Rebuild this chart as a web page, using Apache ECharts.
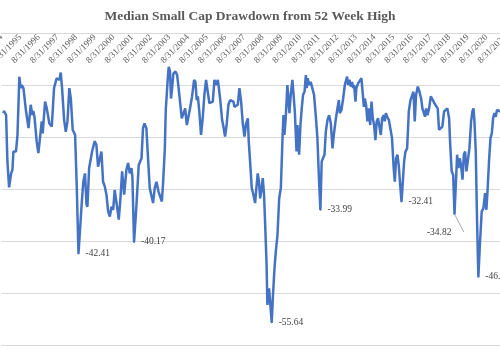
<!DOCTYPE html>
<html>
<head>
<meta charset="utf-8">
<script src="https://cdn.jsdelivr.net/npm/echarts@6/dist/echarts.min.js"></script>
<style>html,body{margin:0;padding:0;background:#fff}#c{width:500px;height:350px}</style>
</head>
<body>
<div id="c"></div>
<script>
// Dates as decimal years, drawdown in percent
const dates = [
1994.76,1994.80,1994.91,1994.98,1995.07,1995.18,1995.25,1995.30,1995.44,1995.52,1995.62,1995.69,1995.75,1995.84,1995.98,
1996.11,1996.18,1996.23,1996.32,1996.37,1996.43,1996.55,1996.64,1996.73,1996.82,1996.87,1997.00,1997.09,1997.23,1997.36,
1997.48,1997.62,1997.71,1997.77,1997.84,1997.91,1998.02,1998.11,1998.20,1998.30,1998.38,1998.48,1998.61,1998.70,1998.79,
1998.88,1998.97,1999.05,1999.14,
1999.22,1999.27,1999.36,1999.43,1999.52,1999.66,1999.75,1999.84,1999.93,2000.02,2000.11,2000.20,2000.29,2000.38,2000.47,
2000.56,2000.65,2000.73,2000.82,2000.95,2001.04,2001.13,2001.24,2001.36,2001.45,2001.54,2001.63,2001.68,2001.77,2001.90,
2002.02,2002.17,2002.25,2002.33,2002.43,2002.52,2002.61,2002.70,2002.79,2002.88,2002.97,2003.08,2003.18,2003.26,2003.33,
2003.42,2003.47,2003.59,
2003.63,2003.70,2003.75,2003.81,2003.88,2003.99,2004.08,2004.15,2004.24,2004.33,2004.42,2004.51,2004.60,2004.68,2004.77,
2004.88,2004.99,2005.06,2005.13,2005.19,2005.27,2005.36,2005.45,2005.54,2005.63,2005.72,2005.81,2005.90,2005.99,2006.08,
2006.17,2006.26,2006.31,2006.40,2006.49,2006.56,2006.65,2006.74,2006.83,2006.92,2007.01,2007.10,2007.15,2007.24,2007.33,
2007.42,2007.51,2007.60,2007.69,2007.78,2007.87,2007.92,2007.99,
2008.08,2008.17,2008.26,2008.33,2008.40,2008.47,2008.53,2008.60,2008.67,2008.74,2008.80,2008.87,2008.92,2009.01,2009.08,
2009.15,2009.22,2009.30,2009.37,2009.46,2009.55,2009.64,2009.73,2009.78,2009.83,2009.90,2009.99,2010.05,2010.10,2010.17,
2010.26,2010.32,2010.39,2010.48,2010.53,2010.62,2010.69,2010.76,2010.83,2010.91,2010.98,2011.03,2011.08,2011.16,2011.24,
2011.33,2011.42,2011.51,2011.60,2011.69,2011.76,2011.83,2011.91,2011.98,2012.05,2012.14,2012.23,2012.32,2012.41,
2012.48,2012.57,2012.66,2012.75,2012.80,2012.89,2012.98,2013.07,2013.14,2013.19,2013.25,2013.32,2013.39,2013.46,2013.51,
2013.57,2013.64,2013.69,2013.78,2013.87,2013.96,2014.03,2014.09,2014.14,2014.21,2014.28,2014.35,2014.43,2014.50,2014.57,
2014.64,2014.71,2014.78,2014.85,2014.93,2015.00,2015.07,2015.16,2015.21,2015.27,2015.34,2015.43,2015.52,2015.60,2015.69,
2015.75,2015.82,2015.89,2015.96,2016.05,2016.11,2016.18,2016.25,2016.32,2016.41,2016.50,2016.59,2016.68,2016.75,2016.82,
2016.89,
2016.98,2017.05,2017.16,2017.23,2017.30,2017.37,2017.43,2017.50,2017.59,2017.68,2017.73,2017.79,2017.87,2017.96,2018.05,
2018.12,2018.21,2018.30,2018.39,2018.48,2018.57,2018.66,2018.73,2018.80,2018.88,2018.95,2019.02,2019.09,2019.16,2019.23,
2019.30,2019.38,2019.45,2019.52,2019.59,2019.66,2019.75,2019.84,2019.91,2019.97,2020.02,2020.09,2020.16,2020.23,2020.32,
2020.41,2020.50,2020.59,2020.66,2020.73,2020.80,2020.88,2020.95,2021.02,2021.09,2021.16,2021.23,2021.31,2021.39
];
const drawdown = [
-15.4,-15.0,-15.8,-24.7,-29.7,-27.0,-26.3,-22.8,-22.8,-19.6,-8.4,-10.6,-10.0,-10.6,-15.1,
-18.3,-18.5,-13.8,-15.8,-15.0,-16.1,-20.9,-23.1,-23.4,-17.0,-19.3,-13.2,-14.5,-17.4,-18.0,
-10.6,-8.7,-8.4,-9.0,-7.6,-10.6,-16.7,-19.0,-17.0,-10.6,-12.6,-18.6,-19.6,-29.8,-42.41,
-37.5,-32.4,-28.6,-27.0,
-33.0,-33.4,-26.0,-25.7,-22.8,-20.8,-21.5,-25.7,-25.7,-22.8,-28.6,-29.5,-31.1,-34.3,-35.3,
-33.4,-34.0,-30.2,-32.4,-35.9,-31.8,-26.6,-31.1,-26.3,-25.0,-27.0,-26.0,-27.6,-40.17,-33.0,
-25.4,-24.1,-18.3,-17.4,-18.3,-24.1,-29.8,-29.5,-32.7,-29.8,-28.6,-30.5,-30.5,-32.4,-28.6,
-22.2,-14.8,-8.1,
-6.5,-7.4,-12.6,-10.6,-7.8,-7.4,-8.1,-10.3,-10.6,-16.4,-16.7,-14.5,-17.7,-18.0,-14.5,
-12.2,-9.0,-9.4,-12.9,-12.2,-15.1,-19.6,-16.4,-11.9,-9.0,-11.3,-13.5,-13.8,-13.2,-9.0,
-10.0,-9.0,-10.3,-13.2,-16.7,-18.0,-19.9,-17.4,-13.8,-12.9,-12.9,-13.2,-14.2,-14.5,-13.8,
-10.6,-13.2,-17.4,-19.9,-17.4,-16.4,-20.9,-24.7,
-29.8,-31.1,-32.7,-29.8,-27.0,-28.6,-31.8,-30.2,-27.9,-31.1,-36.9,-43.9,-52.3,-49.1,-49.4,
-55.64,-50.3,-45.2,-42.0,-38.8,-31.8,-29.8,-20.2,-15.8,-19.6,-16.4,-10.0,-10.0,-15.4,-11.9,
-9.0,-9.0,-15.1,-22.8,-17.7,-23.4,-17.7,-14.5,-11.9,-11.3,-8.1,-10.6,-8.7,-10.0,-9.4,
-9.4,-11.9,-15.8,-20.2,-28.6,-33.99,-24.7,-25.0,-23.4,-19.0,-16.7,-15.8,-17.4,-22.2,
-19.6,-17.0,-14.8,-12.9,-15.4,-14.8,-12.6,-10.0,-9.7,-8.4,-10.0,-9.0,-10.3,-9.4,-10.6,
-10.0,-13.2,-10.6,-9.7,-9.4,-8.7,-11.6,-14.2,-12.6,-13.8,-17.0,-14.5,-17.7,-13.2,-16.4,
-17.7,-20.6,-17.0,-16.4,-16.1,-19.6,-16.4,-15.8,-17.0,-15.4,-16.1,-16.7,-17.0,-20.2,-26.0,
-28.6,-24.1,-23.4,-25.4,-29.8,-32.41,-28.6,-24.7,-22.8,-22.2,-15.1,-12.9,-12.6,-11.3,-17.0,
-11.9,
-10.3,-11.0,-12.6,-14.5,-14.8,-16.1,-14.5,-15.8,-14.5,-12.2,-11.9,-12.9,-13.5,-13.8,-14.5,
-18.6,-18.6,-18.0,-15.1,-15.1,-14.5,-16.4,-22.2,-26.6,-27.3,-34.82,-29.2,-23.4,-26.0,-24.1,
-25.4,-28.2,-23.4,-22.8,-26.6,-24.7,-22.2,-17.0,-15.1,-14.5,-17.0,-22.8,-36.3,-46.87,-40.1,
-34.3,-33.7,-30.8,-34.0,-29.8,-24.7,-20.2,-19.3,-16.4,-15.4,-16.1,-14.8,-14.5,-15.1
];
// Annotated troughs
const labeledTroughs = [-42.41, -40.17, -55.64, -33.99, -32.41, -34.82, -46.87];
const leaderTrough = -34.82;
// Tick labels: 8/31 of each year from 1994
const tickPrefix = '8/31/';
const firstTickYear = 1994;
const axisStart = 1994 + 242 / 365; // 8/31/1994

const seriesData = dates.map((d, i) => {
  const v = drawdown[i];
  const item = { value: [d - axisStart, v] };
  if (labeledTroughs.indexOf(v) >= 0) {
    item.symbol = 'circle';
    item.symbolSize = 2;
    item.label = { show: true, position: 'right', distance: 6, formatter: v.toFixed(2) };
    if (v === leaderTrough) {
      item.label.position = 'left';
      item.label.offset = [4, 18];
      item.labelLine = { show: true, lineStyle: { color: '#a6a6a6', width: 1 } };
    }
  }
  return item;
});

const gridHeight = 364;
const chart = echarts.init(document.getElementById('c'), null, { renderer: 'canvas' });
chart.setOption({
  animation: false,
  title: {
    text: 'Median Small Cap Drawdown from 52 Week High',
    left: 'center', top: 5,
    textStyle: { fontFamily: 'Liberation Serif', fontWeight: 'bold', fontSize: 13.5, color: '#595959' }
  },
  grid: { left: 1.5, top: 33, width: 503.6, height: gridHeight, containLabel: false, outerBoundsMode: 'none' },
  xAxis: {
    type: 'value', position: 'bottom', offset: -gridHeight, min: 0, max: 27, interval: 1,
    axisLine: { onZero: false, lineStyle: { color: '#d9d9d9', width: 1 } },
    axisTick: { show: false },
    splitLine: { show: false },
    axisLabel: {
      rotate: 45, margin: 3,
      fontFamily: 'Liberation Serif', fontSize: 9, color: '#595959',
      hideOverlap: false,
      formatter: (v) => tickPrefix + (firstTickYear + Math.round(v))
    }
  },
  yAxis: {
    type: 'value', min: -70, max: 0, interval: 10,
    axisLine: { show: false }, axisTick: { show: false }, axisLabel: { show: false },
    splitLine: { lineStyle: { color: '#d9d9d9', width: 1 } }
  },
  series: [{
    type: 'line', data: seriesData, symbol: 'none', showSymbol: true,
    lineStyle: { color: '#4472C4', width: 2.5 },
    itemStyle: { color: '#4472C4' },
    label: { fontFamily: 'Liberation Serif', fontSize: 9.5, color: '#404040' }
  }]
});
</script>
</body>
</html>
